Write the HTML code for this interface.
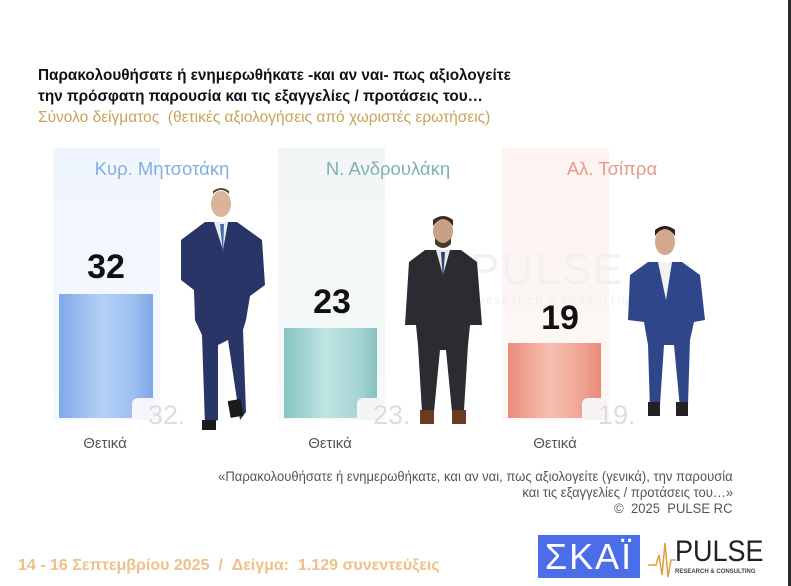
<!DOCTYPE html>
<html><head><meta charset="utf-8"><style>
body{margin:0;width:791px;height:586px;background:#fff;position:relative;overflow:hidden;font-family:"Liberation Sans",sans-serif}
div{position:absolute;white-space:nowrap}
.t{left:38px;font-weight:bold;font-size:15.3px;color:#111;}
.nm{font-size:18.5px;top:158px;width:200px;text-align:center}
.num{font-weight:bold;font-size:34px;color:#111;width:100px;text-align:center}
.gh{font-size:27px;color:#ddd}
.th{font-size:15px;color:#555;top:435px;width:100px;text-align:center}
.q{font-size:13.5px;color:#555;text-align:right;transform-origin:right top;transform:scaleX(0.966)}
</style></head><body>
<div class="t" style="top:67px">Παρακολουθήσατε ή ενημερωθήκατε -και αν ναι- πως αξιολογείτε</div>
<div class="t" style="top:88px">την πρόσφατη παρουσία και τις εξαγγελίες / προτάσεις του…</div>
<div style="left:38px;top:109px;font-size:15.5px;color:#c9a25a">Σύνολο δείγματος &nbsp;(θετικές αξιολογήσεις από χωριστές ερωτήσεις)</div>

<div style="left:53px;top:148px;width:107px;height:272px;background:linear-gradient(#f0f6fe,#f6f9fe)"></div>
<div style="left:278px;top:148px;width:107px;height:272px;background:linear-gradient(#f2f6f6,#f7f9f9)"></div>
<div style="left:502px;top:148px;width:107px;height:272px;background:linear-gradient(#fdf3f1,#fcf7f6)"></div>

<div class="nm" style="left:62px;color:#86aee0">Κυρ. Μητσοτάκη</div>
<div class="nm" style="left:288px;color:#7fb3b0">Ν. Ανδρουλάκη</div>
<div class="nm" style="left:512px;color:#e59a8a">Αλ. Τσίπρα</div>

<div style="left:59px;top:294px;width:94px;height:124px;background:linear-gradient(90deg,#7fa9e8,#b4d0f6 45%,#9cbff0 80%,#7ea8e6)"></div>
<div style="left:284px;top:328px;width:93px;height:90px;background:linear-gradient(90deg,#86c3c0,#c0e4e3 45%,#a6d5d3 80%,#86c1be)"></div>
<div style="left:508px;top:343px;width:93px;height:75px;background:linear-gradient(90deg,#eb8c7a,#f6bfb2 45%,#f0a393 80%,#e98b78)"></div>
<div style="left:132px;top:398px;width:24px;height:22px;background:#f4f6f9;border-radius:6px 0 0 0"></div>
<div style="left:357px;top:398px;width:24px;height:22px;background:#f4f6f6;border-radius:6px 0 0 0"></div>
<div style="left:582px;top:398px;width:24px;height:22px;background:#f8f4f3;border-radius:6px 0 0 0"></div>

<div class="num" style="left:56px;top:248px">32</div>
<div class="num" style="left:282px;top:283px">23</div>
<div class="num" style="left:510px;top:299px">19</div>
<div class="gh" style="left:148px;top:400px">32.</div>
<div class="gh" style="left:373px;top:400px">23.</div>
<div class="gh" style="left:598px;top:400px">19.</div>
<div class="th" style="left:55px">Θετικά</div>
<div class="th" style="left:280px">Θετικά</div>
<div class="th" style="left:505px">Θετικά</div>

<div style="left:470px;top:245px;font-size:44px;color:#f1f1f1;letter-spacing:2px">PULSE</div>
<div style="left:478px;top:296px;font-size:9px;color:#eee;letter-spacing:2px">RESEARCH &amp; CONSULTING</div>

<svg width="791" height="586" style="position:absolute;left:0;top:0">
<g>
<ellipse cx="221" cy="204" rx="10" ry="13" fill="#d9b49a"/>
<path d="M213 194 q8 -8 16 0 l0 -3 q-8 -6 -16 0z" fill="#5a4636"/>
<path d="M205 222 L237 222 L262 240 L265 285 L250 296 L246 320 L243 330 L246 412 L240 420 L228 340 L218 345 L218 420 L205 425 L202 335 L195 320 L194 290 L181 280 L181 240 Z" fill="#283566"/>
<path d="M214 222 L228 222 L223 250 Z" fill="#e6ecf5"/>
<path d="M220 224 L224 224 L223 255 Z" fill="#4a6aa8"/>
<rect x="202" y="420" width="14" height="10" fill="#1a1a1a"/>
<rect x="229" y="400" width="13" height="17" fill="#1a1a1a" transform="rotate(-10 235 408)"/>
</g>
<g>
<ellipse cx="443" cy="231" rx="10" ry="13" fill="#c9a086"/>
<path d="M433 226 q10 -14 20 0 l0 -6 q-10 -8 -20 0z" fill="#3a2c22"/>
<path d="M435 238 q8 10 16 0 l0 6 q-8 8 -16 0z" fill="#4a3a2e"/>
<path d="M425 250 L461 250 L477 262 L482 325 L470 325 L468 345 L464 410 L452 412 L446 350 L440 350 L434 412 L422 412 L418 345 L416 325 L405 325 L409 262 Z" fill="#2b2b31"/>
<path d="M436 250 L450 250 L443 275 Z" fill="#e4e6ea"/>
<path d="M441 252 L445 252 L443 280 Z" fill="#2f3f6a"/>
<rect x="420" y="410" width="14" height="14" fill="#6a3b22"/>
<rect x="452" y="410" width="14" height="14" fill="#6a3b22"/>
</g>
<g>
<ellipse cx="665" cy="242" rx="10" ry="13" fill="#d2a98e"/>
<path d="M655 236 q10 -14 20 0 l0 -6 q-10 -8 -20 0z" fill="#2a2220"/>
<path d="M648 262 L682 262 L700 275 L705 320 L694 322 L690 340 L688 405 L680 408 L674 345 L664 345 L660 405 L650 410 L648 345 L644 322 L628 320 L630 275 Z" fill="#30468a"/>
<path d="M658 262 L672 262 L666 300 Z" fill="#f2f2f2"/>
<rect x="648" y="402" width="12" height="14" fill="#222"/>
<rect x="676" y="402" width="12" height="14" fill="#222"/>
</g>
</svg>

<div class="q" style="right:58px;top:469px">«Παρακολουθήσατε ή ενημερωθήκατε, και αν ναι, πως αξιολογείτε (γενικά), την παρουσία</div>
<div class="q" style="right:58px;top:485px">και τις εξαγγελίες / προτάσεις του…»</div>
<div class="q" style="right:58px;top:501px">© &nbsp;2025 &nbsp;PULSE RC</div>
<div style="left:18px;top:557px;font-size:16px;font-weight:bold;color:#eec08a">14 - 16 Σεπτεμβρίου 2025 &nbsp;/ &nbsp;Δείγμα: &nbsp;1.129 συνεντεύξεις</div>

<div style="left:538px;top:535px;width:102px;height:43px;background:#4b6de8;color:#fff;font-size:36px;line-height:43px;text-align:center;letter-spacing:2px">ΣΚΑΪ</div>
<svg width="40" height="45" style="position:absolute;left:648px;top:535px"><polyline points="0,30 8,30 11,20 14,40 17,8 20,42 23,25 28,25" fill="none" stroke="#e0a040" stroke-width="1.5"/></svg>
<div style="left:675px;top:535px;font-size:30px;color:#222;transform-origin:left top;transform:scaleX(0.9)">PULSE</div>
<div style="left:675px;top:569px;font-size:6px;color:#444;font-weight:bold">RESEARCH &amp; CONSULTING</div>

<div style="left:788px;top:0;width:3px;height:586px;background:#2a2a2a"></div>
</body></html>
